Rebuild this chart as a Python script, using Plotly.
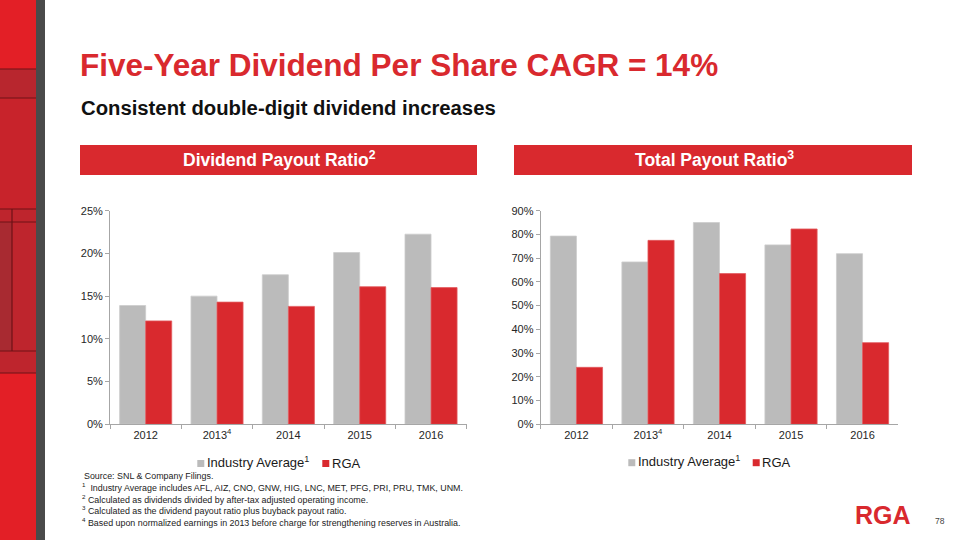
import plotly.graph_objects as go

years = ["2012", "2013<sup>4</sup>", "2014", "2015", "2016"]
div_industry = [0.139, 0.150, 0.175, 0.201, 0.2225]
div_rga = [0.121, 0.143, 0.138, 0.161, 0.160]
tot_industry = [0.793, 0.684, 0.850, 0.756, 0.719]
tot_rga = [0.240, 0.775, 0.635, 0.823, 0.344]
series_names = ["Industry Average<sup>1</sup>", "RGA"]

GRAY = "#BBBBBB"
RED = "#D9292E"
W, H = 960, 540

def px(x):
    return x / W

def py(y):
    return 1 - y / H

fig = go.Figure()
for ys, xa, ya in [(div_industry, "x", "y"), (tot_industry, "x2", "y2")]:
    fig.add_trace(go.Bar(x=years, y=ys, name=series_names[0], marker_color=GRAY,
                         marker_line=dict(color="#CDCDCD", width=0.8),
                         xaxis=xa, yaxis=ya, showlegend=False, offsetgroup="ind"))
for ys, xa, ya in [(div_rga, "x", "y"), (tot_rga, "x2", "y2")]:
    fig.add_trace(go.Bar(x=years, y=ys, name=series_names[1], marker_color=RED,
                         marker_line=dict(color="#E25A5E", width=0.8),
                         xaxis=xa, yaxis=ya, showlegend=False, offsetgroup="rga"))

tickfont = dict(family="Arial", size=11, color="#262626")
axcommon = dict(showline=True, linecolor="#A6A6A6", linewidth=1, ticks="outside",
                tickcolor="#A6A6A6", ticklen=4, showgrid=False, zeroline=False,
                tickfont=tickfont, automargin=False, fixedrange=True)

fig.update_layout(
    template="none",
    width=W, height=H, autosize=False, margin=dict(l=0, r=0, t=0, b=0, pad=0),
    paper_bgcolor="white", plot_bgcolor="white",
    barmode="group", bargap=0.27, bargroupgap=0,
    font=dict(family="Arial"),
    showlegend=False,
    xaxis=dict(domain=[px(110), px(466.7)], anchor="y", type="category", tickson="boundaries",
               range=[-0.5, 4.5], **axcommon),
    yaxis=dict(domain=[py(424.3), py(210.7)], anchor="x", range=[0, 0.25], dtick=0.05,
               tickformat=".0%", **axcommon),
    xaxis2=dict(domain=[px(540.7), px(898.3)], anchor="y2", type="category", tickson="boundaries",
                range=[-0.5, 4.5], **axcommon),
    yaxis2=dict(domain=[py(424.3), py(210.7)], anchor="x2", range=[0, 0.9], dtick=0.1,
                tickformat=".0%", **axcommon),
)

shapes = []
def rect(x0, x1, y0, y1, color):
    shapes.append(dict(type="rect", xref="paper", yref="paper", x0=px(x0), x1=px(x1),
                       y0=py(y1), y1=py(y0), fillcolor=color, line_width=0, layer="below"))

def line(x0, x1, y0, y1, color, w=1.2):
    shapes.append(dict(type="line", xref="paper", yref="paper", x0=px(x0), x1=px(x1),
                       y0=py(y0), y1=py(y1), line=dict(color=color, width=w)))

# left decorative strip
rect(0, 36, 0, 540, "#E31F26")
rect(0, 36, 69, 98, "#B8262E")
rect(0, 36, 98, 209, "#C8232B")
rect(0, 36, 209, 373, "#BE252D")
rect(0, 12, 222, 351, "#A82A31")
for yy in [69, 98, 209, 222, 351, 373]:
    line(0, 36, yy, yy, "#6E1216")
line(12, 12, 209, 351, "#6E1216")
rect(36, 45, 0, 540, "#4A4A4A")
# header boxes
rect(80, 477, 145, 175, "#D9292E")
rect(514, 912, 145, 175, "#D9292E")

ann = []
def text(t, x, y, size, color, xanchor="left", family="Arial"):
    ann.append(dict(text=t, x=px(x), y=py(y), xref="paper", yref="paper",
                    xanchor=xanchor, yanchor="middle", showarrow=False,
                    font=dict(family=family, size=size, color=color)))

# custom legends (small squares like the reference)
for sq_gray, tx_gray, sq_red, tx_red, ly in [(197.3, 205.0, 322.3, 329.8, 463.5),
                                              (628.3, 636.0, 752.7, 760.3, 462.7)]:
    rect(sq_gray, sq_gray + 7, ly - 3.5, ly + 3.5, GRAY)
    rect(sq_red, sq_red + 7, ly - 3.5, ly + 3.5, RED)
    text(series_names[0], tx_gray, ly - 2, 13, "#1A1A1A")
    text(series_names[1], tx_red, ly, 13, "#1A1A1A")

fig.update_layout(shapes=shapes)

text("<b>Five-Year Dividend Per Share CAGR = 14%</b>", 77.5, 65.5, 31.5, "#D9292E")
text("<b>Consistent double-digit dividend increases</b>", 78.5, 108, 20.3, "#111111")
text("<b>Dividend Payout Ratio<sup>2</sup></b>", 279, 159, 17.5, "white", "center")
text("<b>Total Payout Ratio<sup>3</sup></b>", 714, 159, 17.5, "white", "center")
foot = [
    (82, 476, "Source: SNL & Company Filings."),
    (79.5, 487, "<sup>1</sup>  Industry Average includes AFL, AIZ, CNO, GNW, HIG, LNC, MET, PFG, PRI, PRU, TMK, UNM."),
    (79.5, 498.5, "<sup>2</sup> Calculated as dividends divided by after-tax adjusted operating income."),
    (79.5, 510, "<sup>3</sup> Calculated as the dividend payout ratio plus buyback payout ratio."),
    (79.5, 521.5, "<sup>4</sup> Based upon normalized earnings in 2013 before charge for strengthening reserves in Australia."),
]
for x, y, t in foot:
    text(t, x, y, 8.9, "#222222")
text("<b>RGA</b>", 882.5, 514.5, 25, "#D9292E", "center")
text("78", 940, 520.5, 8.5, "#444444", "center")
fig.update_layout(annotations=ann)

fig.write_html("out.html")
